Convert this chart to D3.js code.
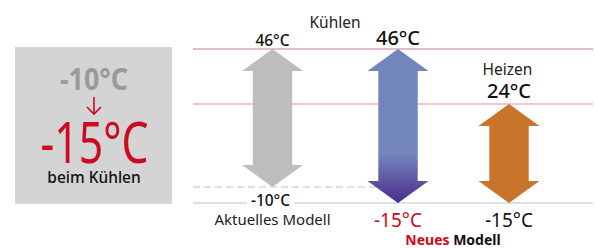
<!DOCTYPE html>
<html>
<head>
<meta charset="utf-8">
<title>Kühlen Heizen</title>
<script src="https://cdn.jsdelivr.net/npm/d3@7"></script>
<style>
  body { margin: 0; background: #fff; }
  text { font-family: "Noto Sans", "Open Sans", sans-serif; }
</style>
</head>
<body>
<div id="chart"></div>
<script>
// data
var arrowKeys = ["alt", "neuK", "neuH"];
var highTemps = [46, 46, 24];
var lowTemps = [-10, -15, -15];
var arrowColors = ["#bdbdbd", "#7386bb", "#c8742b"];
var refTemps = [46, 24, -15];
var modeLabels = ["Kühlen", "Heizen"];
var modelLabels = ["Aktuelles Modell", "Neues", "Modell"];
var boxTemps = ["-10°C", "-15°C"];
var boxLabel = "beim Kühlen";

var W = 595, H = 248;
var svg = d3.select("#chart").append("svg").attr("width", W).attr("height", H);

// schematic temperature axis
var y = d3.scaleLinear().domain([-15, -10, 24, 46]).range([203, 187, 104, 49]);
var x = d3.scaleOrdinal().domain(arrowKeys).range([272.5, 398, 509]);
var deg = function(t) { return t + "°C"; };

var defs = svg.append("defs");
var grad = defs.append("linearGradient").attr("id", "blueGrad")
  .attr("x1", 0).attr("y1", 0).attr("x2", 0).attr("y2", 1);
grad.append("stop").attr("offset", "0.68").attr("stop-color", "#7386bb");
grad.append("stop").attr("offset", "1").attr("stop-color", "#4a2c8e");

// left box
svg.append("rect").attr("x", 15).attr("y", 47).attr("width", 157).attr("height", 157).attr("fill", "#d4d4d4");
svg.append("text").attr("x", 94).attr("y", 90).attr("text-anchor", "middle")
  .attr("font-size", 31).attr("font-weight", "bold").attr("fill", "#9a9a9a")
  .attr("textLength", 68).attr("lengthAdjust", "spacingAndGlyphs").text(boxTemps[0]);
svg.append("path").attr("d", "M94,97 V114 M87,107 L94,114 L101,107")
  .attr("fill", "none").attr("stroke", "#cc0a22").attr("stroke-width", 1.6);
svg.append("text").attr("x", 94.5).attr("y", 163).attr("text-anchor", "middle")
  .attr("font-size", 56).attr("fill", "#cc0a22")
  .attr("textLength", 108).attr("lengthAdjust", "spacingAndGlyphs").text(boxTemps[1]);
svg.append("text").attr("x", 94).attr("y", 183).attr("text-anchor", "middle")
  .attr("font-size", 15.5).attr("font-weight", 500).attr("fill", "#111").text(boxLabel);

// reference lines
var x0 = 193, x1 = 593;
svg.append("line").attr("x1", x0).attr("x2", x1).attr("y1", y(refTemps[0])).attr("y2", y(refTemps[0]))
  .attr("stroke", "#c97a92").attr("stroke-width", 1.1);
svg.append("line").attr("x1", x0).attr("x2", x1).attr("y1", y(refTemps[1])).attr("y2", y(refTemps[1]))
  .attr("stroke", "#e98ba5").attr("stroke-width", 1.1);
svg.append("line").attr("x1", x0).attr("x2", x1).attr("y1", y(refTemps[2])).attr("y2", y(refTemps[2]))
  .attr("stroke", "#b6c1dc").attr("stroke-width", 1.1);
svg.append("line").attr("x1", x0).attr("x2", x("neuK")).attr("y1", y(lowTemps[0])).attr("y2", y(lowTemps[0]))
  .attr("stroke", "#b6c1dc").attr("stroke-width", 1.1).attr("stroke-dasharray", "7,4");

// arrows
function arrowPath(cx, yt, yb, hw, sw, hh) {
  return "M" + cx + "," + yt + " L" + (cx + hw) + "," + (yt + hh) + " L" + (cx + sw) + "," + (yt + hh) +
    " L" + (cx + sw) + "," + (yb - hh) + " L" + (cx + hw) + "," + (yb - hh) + " L" + cx + "," + yb +
    " L" + (cx - hw) + "," + (yb - hh) + " L" + (cx - sw) + "," + (yb - hh) + " L" + (cx - sw) + "," + (yt + hh) +
    " L" + (cx - hw) + "," + (yt + hh) + " Z";
}
svg.selectAll(".arrow").data(arrowKeys).enter().append("path")
  .attr("class", "arrow")
  .attr("d", function(d, i) { return arrowPath(x(d), y(highTemps[i]), y(lowTemps[i]), 30.5, 19.7, 22); })
  .attr("fill", function(d, i) { return i == 1 ? "url(#blueGrad)" : arrowColors[i]; });

// labels
svg.append("text").attr("x", 335).attr("y", 27.5).attr("text-anchor", "middle")
  .attr("font-size", 15.5).attr("fill", "#222").text(modeLabels[0]);
svg.append("text").attr("x", x("neuH") - 1.5).attr("y", 75).attr("text-anchor", "middle")
  .attr("font-size", 15.5).attr("fill", "#222").text(modeLabels[1]);

// top temperatures
svg.append("text").attr("x", x("alt")).attr("y", 46).attr("text-anchor", "middle")
  .attr("font-size", 15.5).attr("font-weight", 500).attr("fill", "#111").text(deg(highTemps[0]));
svg.append("text").attr("x", x("neuK")).attr("y", 45).attr("text-anchor", "middle")
  .attr("font-size", 20).attr("font-weight", 500).attr("fill", "#111").text(deg(highTemps[1]));
svg.append("text").attr("x", x("neuH")).attr("y", 97.5).attr("text-anchor", "middle")
  .attr("font-size", 20).attr("font-weight", 500).attr("fill", "#111").text(deg(highTemps[2]));

// bottom temperatures
svg.append("rect").attr("x", 247).attr("y", 196).attr("width", 47).attr("height", 12).attr("fill", "#fff");
svg.append("text").attr("x", x("alt") - 2).attr("y", 205.5).attr("text-anchor", "middle")
  .attr("font-size", 15.5).attr("font-weight", 500).attr("fill", "#111").text(deg(lowTemps[0]));
svg.append("text").attr("x", x("neuK")).attr("y", 226.5).attr("text-anchor", "middle")
  .attr("font-size", 19).attr("fill", "#cc0a22").text(deg(lowTemps[1]));
svg.append("text").attr("x", x("neuH")).attr("y", 226.5).attr("text-anchor", "middle")
  .attr("font-size", 19).attr("fill", "#111").text(deg(lowTemps[2]));

// model labels
svg.append("text").attr("x", x("alt")).attr("y", 225).attr("text-anchor", "middle")
  .attr("font-size", 15).attr("fill", "#222").text(modelLabels[0]);
var nm = svg.append("text").attr("x", 453).attr("y", 244.5).attr("text-anchor", "middle")
  .attr("font-size", 14).attr("font-weight", "bold");
nm.append("tspan").attr("fill", "#cc0a22").text(modelLabels[1] + " ");
nm.append("tspan").attr("fill", "#111").text(modelLabels[2]);
</script>
</body>
</html>
